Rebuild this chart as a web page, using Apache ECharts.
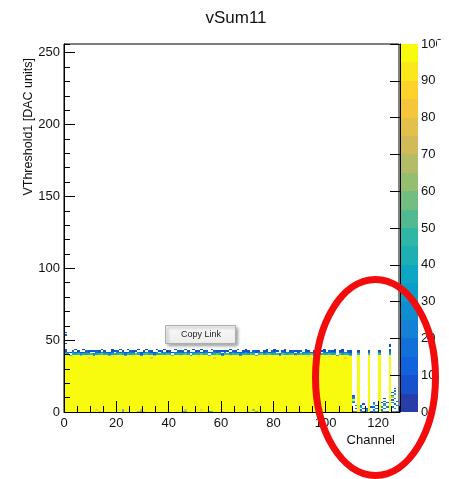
<!DOCTYPE html>
<html>
<head>
<meta charset="utf-8">
<script src="https://cdn.jsdelivr.net/npm/echarts@6.0.0/dist/echarts.min.js"></script>
<style>
html, body { margin: 0; padding: 0; background: #fff; }
#main { width: 449px; height: 479px; }
</style>
</head>
<body>
<div id="main"></div>
<script>
// ---- data ----
// channels 0..127, VThreshold bins 0..255, counts 0..100
// number of bins (from 0) that hold the full 100 counts, per channel (0 = empty channel)
var fullTop = [
  40,40,39,40,40,40,39,40,40,40, 40,39,40,40,40,40,40,39,40,40,
  40,40,40,39,40,40,40,40,40,39, 40,40,40,40,39,40,40,40,40,40,
  40,39,40,40,40,40,40,40,39,40, 40,40,40,40,40,39,40,40,40,40,
  39,40,40,40,40,40,40,39,40,40, 40,40,40,39,40,40,40,40,40,40,
  40,40,39,40,40,40,40,40,39,40, 40,40,40,40,40,39,40,40,40,40,
  40,40,40,40,39,40,40,40,40,39, 0,0,40,0,0,0,40,0,0,0,
  40,0,0,0,40,0,0,0
];
// counts in the first, second, third and fourth bin above the full region
var edgeA = [
  45,38,52,41,36,48,55,40,35,44, 50,42,37,46,58,39,43,51,36,47,
  40,54,38,45,49,36,42,57,41,38, 46,52,39,44,60,37,43,48,35,50,
  41,56,38,45,40,47,53,36,44,39, 48,42,55,37,46,50,38,43,59,40,
  36,45,51,39,47,42,54,38,44,49, 37,53,41,46,40,57,38,45,50,36,
  44,48,39,55,42,37,46,52,40,43, 51,38,47,41,56,39,45,36,49,42,
  40,53,37,46,44,58,39,48,41,50, 0,0,45,0,0,0,52,0,0,0,
  48,0,0,0,35,0,0,0
];
var edgeB = [
  22,15,0,28,12,18,25,9,20,14, 0,24,17,11,27,19,8,22,15,0,
  26,13,21,16,9,24,18,0,29,14, 11,20,25,8,17,23,0,15,27,12,
  19,0,24,14,21,10,26,16,0,22, 13,28,9,18,24,0,15,20,11,26,
  17,23,0,12,25,19,8,21,14,27, 10,18,24,0,16,22,13,28,9,19,
  25,0,15,20,11,26,17,9,23,14, 0,21,16,27,12,18,24,10,0,22,
  15,19,26,13,0,21,17,24,11,20, 0,0,18,0,0,0,12,0,0,0,
  22,0,0,0,25,0,0,0
];
var edgeC = [
  8,0,6,12,0,9,7,0,11,6, 8,0,13,7,0,9,0,10,6,8,
  12,0,7,9,0,11,6,8,0,5, 7,0,12,6,9,0,8,11,0,4,
  9,7,0,10,6,12,0,8,11,0, 5,9,0,6,10,7,0,12,6,8,
  0,9,6,0,10,7,0,11,5,8, 6,0,12,7,9,0,8,6,0,10,
  7,9,0,12,6,0,8,10,0,6, 11,0,7,9,0,6,12,0,8,7,
  0,10,6,8,0,9,7,0,12,6, 0,0,8,0,0,0,6,0,0,0,
  9,0,0,0,12,0,0,0
];
var edgeD = [
  5,0,0,0,6,0,0,4,0,0, 0,5,0,0,7,0,0,0,4,0,
  0,6,0,0,5,0,0,0,7,0, 0,4,0,0,0,6,0,0,5,0,
  0,0,6,0,0,0,5,0,0,7, 0,0,4,0,0,0,6,0,0,0,
  5,0,0,6,0,0,7,0,0,4, 0,0,0,5,0,0,0,6,0,0,
  4,0,0,0,6,0,0,0,5,0, 0,0,6,0,0,4,0,0,0,5,
  0,0,0,6,0,0,4,0,0,7, 0,0,0,0,0,0,0,0,0,0,
  0,0,0,0,10,0,0,0
];
// single cells: [channel, bin, counts] (stray hits, low counts at the bottom, dips below the edge)
var extraCells = [
  [0,53,5],[0,55,6],[0,47,4],[124,45,6],[124,46,4],
  [3,38,88],[9,37,85],[14,39,90],[18,38,86],[26,39,88],[33,37,84],[38,38,90],[44,39,87],
  [51,38,85],[57,37,89],[63,39,86],[69,38,90],[77,38,85],[84,37,88],[88,39,84],[93,38,89],
  [101,38,86],[107,37,88],
  [11,0,85],[12,1,88],[13,0,80],[22,0,45],[22,1,55],[28,0,60],[29,0,50],[29,1,70],[30,0,85],
  [45,0,55],[46,0,50],[46,1,75],[52,1,88],[55,0,40],[56,0,50],[60,0,85],[70,0,88],[72,1,60],
  [73,0,50],[75,0,85],[90,0,88],[96,1,85],[98,0,80],[106,0,88],
  [110,6,20],[110,7,40],[110,8,90],[110,9,30],[110,10,15],[110,11,8],
  [111,2,10],[111,4,25],
  [113,1,15],[113,3,35],[113,4,10],
  [114,0,20],[114,2,10],[114,5,8],
  [115,1,30],[115,2,12],
  [117,0,10],[117,3,8],
  [118,1,25],[118,3,12],[118,5,40],[118,6,15],
  [119,0,30],[119,2,15],[119,4,8],
  [121,1,15],[121,3,30],[121,6,10],
  [122,2,20],[122,4,45],[122,5,25],[122,7,12],[122,9,8],
  [123,0,15],[123,3,20],[123,6,10],
  [125,3,20],[125,6,35],[125,8,15],[125,10,70],[125,11,25],[125,13,10],
  [126,2,30],[126,5,15],[126,9,25],[126,12,45],[126,14,20],[126,16,8],
  [127,0,12],[127,4,20],[127,7,10]
];
// colour scale: lower edge of each contour band
var zBands = [0,5,10,15,20,25,30,35,40,45,50,55,60,65,70,75,80,85,90,95];

// ---- ROOT kBird palette ----
var birdStops = [0, 0.125, 0.25, 0.375, 0.5, 0.625, 0.75, 0.875, 1];
var birdR = [0.2082, 0.0592, 0.0780, 0.0232, 0.1802, 0.5301, 0.8186, 0.9956, 0.9764];
var birdG = [0.1664, 0.3599, 0.5041, 0.6419, 0.7178, 0.7492, 0.7328, 0.7862, 0.9832];
var birdB = [0.5293, 0.8684, 0.8385, 0.7914, 0.6425, 0.4662, 0.3499, 0.1968, 0.0539];
function bird(t) {
  var i = 0;
  while (i < birdStops.length - 2 && t > birdStops[i + 1]) i++;
  var f = (t - birdStops[i]) / (birdStops[i + 1] - birdStops[i]);
  function ch(a) { return Math.round(255 * (a[i] + (a[i + 1] - a[i]) * f)); }
  return 'rgb(' + ch(birdR) + ',' + ch(birdG) + ',' + ch(birdB) + ')';
}
var pieces = zBands.map(function (lo, i) {
  var pos = Math.floor((i + 0.99) * 255 / zBands.length) / 254;
  var p = { gte: lo, color: bird(pos) };
  if (i < zBands.length - 1) p.lt = zBands[i + 1]; else p.lte = 100;
  return p;
});

// ---- build histogram items: [channel, first bin, counts, number of bins] ----
var histData = [];
fullTop.forEach(function (nFull, c) {
  if (!nFull) return;
  histData.push([c, 0, 100, nFull]);
  [edgeA[c], edgeB[c], edgeC[c], edgeD[c]].forEach(function (v, k) {
    if (v) histData.push([c, nFull + k, v, 1]);
  });
});
extraCells.forEach(function (e) { histData.push([e[0], e[1], e[2], 1]); });

function renderCell(params, api) {
  var x = api.value(0), y = api.value(1), n = api.value(3);
  var p0 = api.coord([x, y]);
  var p1 = api.coord([x + 1, y + n]);
  var x0 = Math.round(p0[0]), x1 = Math.round(p1[0]);
  var y0 = Math.round(p0[1]), y1 = Math.round(p1[1]);
  return {
    type: 'rect',
    shape: { x: x0, y: y1, width: x1 - x0, height: y0 - y1 },
    style: { fill: api.visual('color') }
  };
}
function renderBand(params, api) {
  var lo = api.value(1);
  var p0 = api.coord([0, lo]);
  var p1 = api.coord([1, lo + 5]);
  return {
    type: 'rect',
    shape: { x: p0[0], y: Math.round(p1[1]), width: p1[0] - p0[0], height: Math.round(p0[1]) - Math.round(p1[1]) },
    style: { fill: api.visual('color') }
  };
}

var font = 'Liberation Sans';
var txt = '#111';
var chart = echarts.init(document.getElementById('main'), null, { renderer: 'canvas' });

var option = {
  animation: false,
  backgroundColor: '#fff',
  title: {
    text: 'vSum11', left: 231, top: 5, textAlign: 'center',
    textStyle: { fontFamily: font, fontSize: 17, fontWeight: 'normal', color: txt }
  },
  grid: [
    { left: 64, top: 44, width: 335, height: 368, show: true, borderColor: '#000', borderWidth: 1, backgroundColor: '#fff' },
    { left: 400, top: 44, width: 18, height: 368, show: false }
  ],
  visualMap: {
    type: 'piecewise', show: false, dimension: 2, seriesIndex: [0, 1], pieces: pieces
  },
  xAxis: [
    {
      gridIndex: 0, type: 'value', min: 0, max: 128, interval: 20, position: 'bottom', z: 10,
      axisLine: { show: true, onZero: false, lineStyle: { color: '#000', width: 1 } },
      axisTick: { show: true, inside: true, length: 11, lineStyle: { color: '#000' } },
      axisLabel: { fontFamily: font, fontSize: 13, color: txt, margin: 5, showMaxLabel: false },
      splitLine: { show: false }
    },
    {
      gridIndex: 0, type: 'value', min: 0, max: 128, interval: 5, position: 'bottom', z: 10,
      axisLine: { show: false },
      axisTick: { show: true, inside: true, length: 6, lineStyle: { color: '#000' } },
      axisLabel: { show: false },
      splitLine: { show: false }
    },
    {
      gridIndex: 1, type: 'value', min: 0, max: 1, show: false
    }
  ],
  yAxis: [
    {
      gridIndex: 0, type: 'value', min: 0, max: 256, interval: 50, position: 'left', z: 10,
      axisLine: { show: true, onZero: false, lineStyle: { color: '#000', width: 1 } },
      axisTick: { show: true, inside: true, length: 11, lineStyle: { color: '#000' } },
      axisLabel: { fontFamily: font, fontSize: 13, color: txt, margin: 4, showMaxLabel: false },
      splitLine: { show: false }
    },
    {
      gridIndex: 0, type: 'value', min: 0, max: 256, interval: 10, position: 'left', z: 10,
      axisLine: { show: false },
      axisTick: { show: true, inside: true, length: 6, lineStyle: { color: '#000' } },
      axisLabel: { show: false },
      splitLine: { show: false }
    },
    {
      gridIndex: 1, type: 'value', min: 0, max: 100, interval: 10, position: 'right', z: 10,
      axisLine: { show: true, lineStyle: { color: '#000', width: 1 } },
      axisTick: { show: true, inside: true, length: 10, lineStyle: { color: '#000' } },
      axisLabel: { fontFamily: font, fontSize: 13, color: txt, margin: 3 },
      splitLine: { show: false }
    }
  ],
  series: [
    {
      type: 'custom', name: 'vSum11', xAxisIndex: 0, yAxisIndex: 0,
      renderItem: renderCell, clip: true,
      encode: { x: 0, y: 1 },
      data: histData
    },
    {
      type: 'custom', name: 'palette', xAxisIndex: 2, yAxisIndex: 2,
      renderItem: renderBand,
      encode: { x: 0, y: 1 },
      data: zBands.map(function (lo) { return [0, lo, lo + 2.5]; })
    }
  ],
  graphic: [
    {
      type: 'text', x: 29, y: 58, rotation: Math.PI / 2, z: 20,
      style: { text: 'VThreshold1 [DAC units]', font: '12.5px "Liberation Sans"', fill: txt, textAlign: 'right', textVerticalAlign: 'middle' }
    },
    {
      type: 'text', x: 395, y: 440, z: 20,
      style: { text: 'Channel', font: '13px "Liberation Sans"', fill: txt, textAlign: 'right', textVerticalAlign: 'middle' }
    },
    {
      type: 'rect', z: 30,
      shape: { x: 437, y: 40, width: 12, height: 22 },
      style: { fill: '#fff' }
    },
    {
      type: 'group', z: 40,
      children: [
        {
          type: 'rect',
          shape: { x: 165.5, y: 325.5, width: 70, height: 18 },
          style: {
            fill: new echarts.graphic.LinearGradient(0, 0, 0, 1, [
              { offset: 0, color: '#fbfbfb' }, { offset: 1, color: '#ebebeb' }
            ]),
            stroke: '#adadad', lineWidth: 1,
            shadowBlur: 3, shadowOffsetX: 2, shadowOffsetY: 2, shadowColor: 'rgba(0,0,0,0.35)'
          }
        },
        {
          type: 'text', x: 201, y: 335,
          style: { text: 'Copy Link', font: '9px "Liberation Sans"', fill: '#222', textAlign: 'center', textVerticalAlign: 'middle' }
        }
      ]
    },
    {
      type: 'ellipse', z: 50,
      shape: { cx: 375.5, cy: 377.5, rx: 60, ry: 98 },
      style: { fill: null, stroke: '#f20c0c', lineWidth: 7 }
    }
  ]
};

chart.setOption(option);
window.addEventListener('resize', chart.resize);
</script>
</body>
</html>
